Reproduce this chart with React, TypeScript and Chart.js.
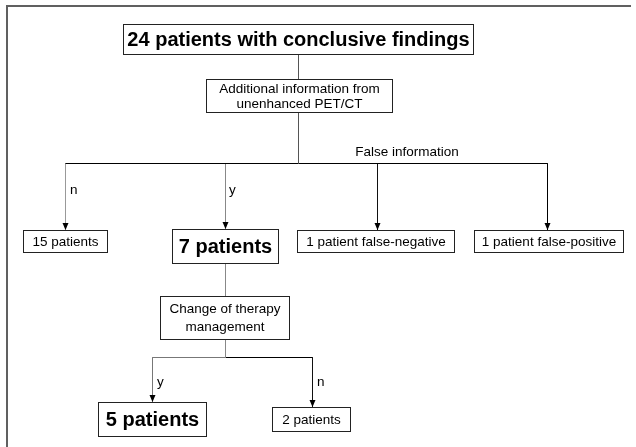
import React, { useEffect, useRef } from "react";
import { Chart, registerables } from "chart.js";
Chart.register(...registerables);

const W = 636;
const H = 447;

// Node texts of the flow diagram
const nodeLabels: string[][] = [
  ["24 patients with conclusive findings"],
  ["Additional information from", "unenhanced PET/CT"],
  ["15 patients"],
  ["7 patients"],
  ["1 patient false-negative"],
  ["1 patient false-positive"],
  ["Change of therapy", "management"],
  ["5 patients"],
  ["2 patients"],
];
const nodeBold = [true, false, false, true, false, false, false, true, false];
// Node boxes in chart units [x1, y1, x2, y2]
const nodeBoxes = [
  [123, 24, 473, 54],
  [206, 79, 392, 112],
  [23, 230, 107, 252],
  [172, 229, 278, 263],
  [297, 230, 454, 252],
  [474, 230, 623, 252],
  [160, 296, 289, 339],
  [98, 402, 206, 436],
  [272, 407, 350, 431],
];

// Edge labels
const edgeLabels = ["n", "y", "False information", "y", "n"];
const edgeLabelPos = [
  [70, 190, "left"],
  [229, 190, "left"],
  [407, 152, "center"],
  [157, 382, "left"],
  [317, 382, "left"],
] as const;

// Connector polylines [[x,y],...] and their colours
const connectors: number[][][] = [
  [[298, 54], [298, 79]],
  [[298, 112], [298, 163]],
  [[65, 163], [547, 163]],
  [[65, 163], [65, 230]],
  [[225, 163], [225, 229]],
  [[377, 163], [377, 230]],
  [[547, 163], [547, 230]],
  [[225, 263], [225, 296]],
  [[225, 339], [225, 357]],
  [[152, 357], [225, 357]],
  [[225, 357], [312, 357]],
  [[152, 357], [152, 402]],
  [[312, 357], [312, 407]],
];
const connectorColors = [
  "#555", "#555", "#000", "#999", "#888", "#111", "#000",
  "#888", "#888", "#777", "#000", "#777", "#111",
];
// Arrow tips [x, y]
const arrowTips = [
  [65, 230], [225, 229], [377, 230], [547, 230], [152, 402], [312, 407],
];

const FONT = "'Liberation Sans', Arial, sans-serif";

export default function App() {
  const ref = useRef<HTMLCanvasElement>(null);
  useEffect(() => {
    document.body.style.margin = "0";
    const canvas = ref.current!;
    const datasets = connectors.map((seg, i) => ({
      type: "scatter" as const,
      data: seg.map(([x, y]) => ({ x: x + 0.5, y: y + 0.5 })),
      showLine: true,
      borderColor: connectorColors[i],
      borderWidth: 1,
      pointRadius: 0,
      fill: false,
    }));
    const flowPlugin = {
      id: "flow",
      afterDraw(chart: any) {
        const ctx = chart.ctx as CanvasRenderingContext2D;
        const xs = chart.scales.x;
        const ys = chart.scales.y;
        const px = (v: number) => xs.getPixelForValue(v);
        const py = (v: number) => ys.getPixelForValue(v);
        ctx.save();
        // frame
        ctx.strokeStyle = "#606060";
        ctx.lineWidth = 2;
        ctx.beginPath();
        ctx.moveTo(px(7), py(447));
        ctx.lineTo(px(7), py(6));
        ctx.lineTo(px(631), py(6));
        ctx.stroke();
        // arrowheads
        ctx.fillStyle = "#000";
        arrowTips.forEach(([x, y]) => {
          const cx = px(x) + 0.5;
          const ty = py(y);
          ctx.beginPath();
          ctx.moveTo(cx, ty);
          ctx.lineTo(cx - 3, ty - 7);
          ctx.lineTo(cx + 3, ty - 7);
          ctx.closePath();
          ctx.fill();
        });
        // boxes
        nodeBoxes.forEach(([x1, y1, x2, y2], i) => {
          const l = px(x1) + 0.5, t = py(y1) + 0.5;
          const r = px(x2) + 0.5, b = py(y2) + 0.5;
          ctx.fillStyle = "#fff";
          ctx.fillRect(l, t, r - l, b - t);
          ctx.strokeStyle = "#222";
          ctx.lineWidth = 1;
          ctx.strokeRect(l, t, r - l, b - t);
          const lines = nodeLabels[i];
          ctx.fillStyle = "#000";
          ctx.textAlign = "center";
          ctx.textBaseline = "middle";
          ctx.font = nodeBold[i] ? `bold 20px ${FONT}` : `13.5px ${FONT}`;
          const cx = (l + r) / 2;
          const cy = (t + b) / 2 + 0.5;
          const lh = i === 6 ? 18 : 15;
          lines.forEach((s, k) => {
            ctx.fillText(s, cx, cy + (k - (lines.length - 1) / 2) * lh);
          });
        });
        // edge labels
        ctx.font = `13.5px ${FONT}`;
        ctx.fillStyle = "#000";
        ctx.textBaseline = "middle";
        edgeLabels.forEach((s, i) => {
          const [x, y, a] = edgeLabelPos[i];
          ctx.textAlign = a as CanvasTextAlign;
          ctx.fillText(s, px(x as number), py(y as number));
        });
        ctx.restore();
      },
    };
    const chart = new Chart(canvas, {
      type: "scatter",
      data: { datasets },
      options: {
        animation: false,
        responsive: false,
        maintainAspectRatio: false,
        layout: { padding: 0 },
        plugins: { legend: { display: false }, tooltip: { enabled: false } },
        scales: {
          x: { type: "linear", min: 0, max: W, display: false },
          y: { type: "linear", min: 0, max: H, reverse: true, display: false },
        },
      },
      plugins: [flowPlugin],
    });
    return () => chart.destroy();
  }, []);
  return (
    <div style={{ width: W, height: H, background: "#fff" }}>
      <canvas ref={ref} width={W} height={H} style={{ display: "block" }} />
    </div>
  );
}
